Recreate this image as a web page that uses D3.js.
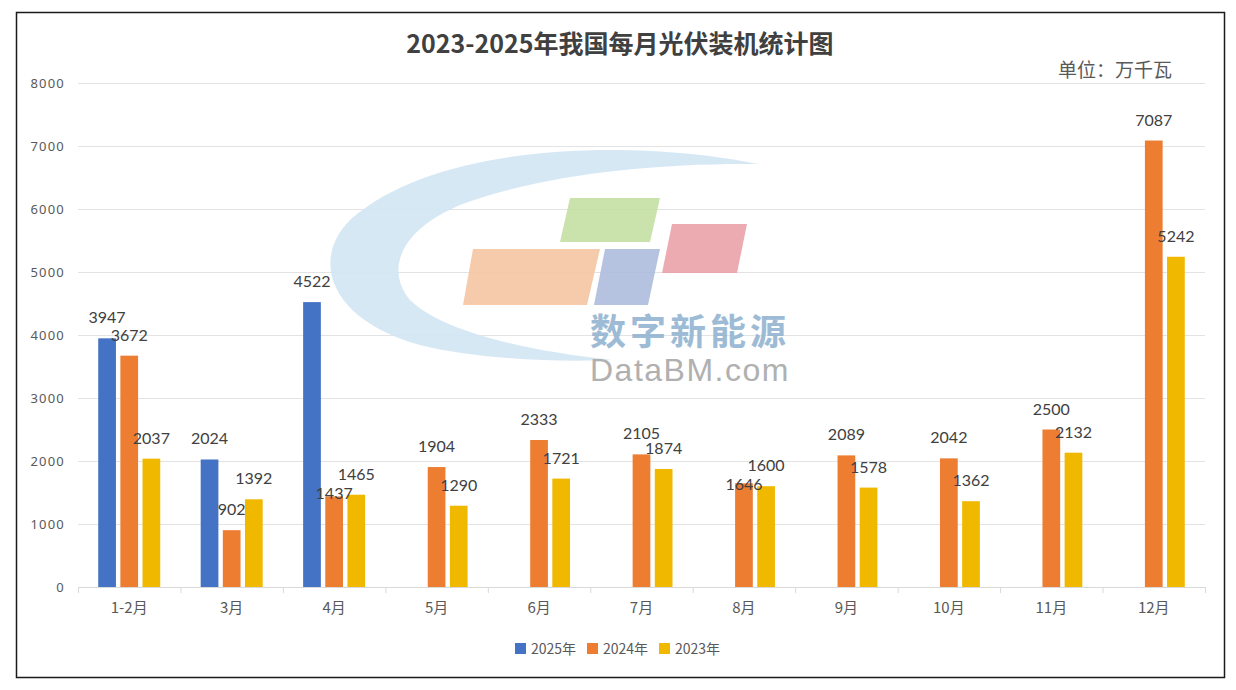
<!DOCTYPE html>
<html>
<head>
<meta charset="utf-8">
<script src="https://cdn.jsdelivr.net/npm/d3@7"></script>
<style>
  body { margin: 0; background: #fff; }
</style>
</head>
<body>
<div id="chart"></div>
<script>
const months = ['1-2月', '3月', '4月', '5月', '6月', '7月', '8月', '9月', '10月', '11月', '12月'];
const seriesNames = ['2025年', '2024年', '2023年'];
const colors = ['#4472C4', '#ED7D31', '#F1B800'];
const values2025 = [3947, 2024, 4522, null, null, null, null, null, null, null, null];
const values2024 = [3672, 902, 1437, 1904, 2333, 2105, 1646, 2089, 2042, 2500, 7087];
const values2023 = [2037, 1392, 1465, 1290, 1721, 1874, 1600, 1578, 1362, 2132, 5242];
const yTicks = [0, 1000, 2000, 3000, 4000, 5000, 6000, 7000, 8000];

// table for the grouped bars
const allValues = [values2025, values2024, values2023];
const rows = months.map((m, i) => ({
  month: m,
  bars: seriesNames.map((s, j) => ({series: s, value: allValues[j][i]}))
}));

const W = 1236, H = 690;
const plot = {left: 78, right: 1205, top: 83, bottom: 587};

const svg = d3.select('#chart')
  .append('svg')
    .attr('width', W)
    .attr('height', H);

// outer frame
svg.append('rect')
  .attr('x', 16.5).attr('y', 12.5)
  .attr('width', 1208).attr('height', 665)
  .attr('fill', '#fff')
  .attr('stroke', '#1a1a1a')
  .attr('stroke-width', 1.5);

const x0 = d3.scaleBand()
  .domain(months)
  .range([plot.left, plot.right])
  .padding(0);

const x1 = d3.scaleBand()
  .domain(seriesNames)
  .range([-31, 31])
  .paddingInner(0.2);

const y = d3.scaleLinear()
  .domain([0, 8000])
  .range([plot.bottom, plot.top]);

// gridlines + y labels
svg.append('g')
  .selectAll('line')
  .data(yTicks.slice(1))
  .join('line')
    .attr('x1', plot.left).attr('x2', plot.right)
    .attr('y1', d => y(d) + 0.5).attr('y2', d => y(d) + 0.5)
    .attr('stroke', '#e3e3e3');

svg.append('g')
  .selectAll('text')
  .data(yTicks)
  .join('text')
    .attr('x', 65)
    .attr('y', d => y(d) + 5)
    .attr('text-anchor', 'end')
    .attr('font-family', 'Noto Sans, sans-serif')
    .attr('font-size', 13)
    .attr('letter-spacing', 1.2)
    .attr('fill', '#595959')
    .text(d => d);

// watermark
const wm = svg.append('g').attr('opacity', 0.9);
wm.append('path')
  .attr('d', 'M758,164 C640,140 440,140 350,220 C310,260 330,320 420,345 C480,360 560,362 612,360 ' +
             'C520,350 440,330 410,300 C385,270 400,230 460,205 C540,175 650,163 758,164 Z')
  .attr('fill', '#d3e6f5');
const quads = [
  {pts: [[463,305],[473,249],[600,249],[587,305]], c: '#f6c6a2'},
  {pts: [[560,242],[570,198],[660,198],[650,242]], c: '#c5dfa3'},
  {pts: [[594,305],[605,249],[660,249],[648,305]], c: '#aebddd'},
  {pts: [[662,273],[672,224],[747,224],[737,273]], c: '#eba2a9'}
];
wm.selectAll('polygon')
  .data(quads)
  .join('polygon')
    .attr('points', d => d.pts.join(' '))
    .attr('fill', d => d.c);
wm.append('text')
  .attr('x', 590).attr('y', 345)
  .attr('font-family', 'Noto Sans CJK SC, sans-serif')
  .attr('font-weight', 'bold')
  .attr('font-size', 36)
  .attr('letter-spacing', 4)
  .attr('fill', '#94b4d2')
  .text('数字新能源');
wm.append('text')
  .attr('x', 590).attr('y', 381)
  .attr('font-family', 'Liberation Sans, sans-serif')
  .attr('font-size', 32)
  .attr('letter-spacing', 1.5)
  .attr('fill', '#a8a8a8')
  .text('DataBM.com');

// bars
const groups = svg.append('g')
  .selectAll('g')
  .data(rows)
  .join('g')
    .attr('transform', d => `translate(${x0(d.month) + x0.bandwidth() / 2},0)`);

groups.selectAll('rect')
  .data(d => d.bars.filter(b => b.value != null))
  .join('rect')
    .attr('x', d => x1(d.series))
    .attr('y', d => y(d.value))
    .attr('width', x1.bandwidth())
    .attr('height', d => y(0) - y(d.value))
    .attr('fill', d => colors[seriesNames.indexOf(d.series)]);

// label baseline above each bar; if a label is not clearly above its right
// neighbour, push it down below that neighbour
function labelPositions(bars) {
  const list = bars.filter(b => b.value != null)
    .map(b => ({...b, ly: y(b.value) - 15}));
  for (let i = list.length - 2; i >= 0; i--) {
    const next = list[i + 1];
    if (list[i].ly > next.ly - 14) list[i].ly = Math.max(list[i].ly, next.ly + 19);
  }
  return list;
}

groups.selectAll('text')
  .data(d => labelPositions(d.bars))
  .join('text')
    .attr('x', d => x1(d.series) + x1.bandwidth() / 2)
    .attr('y', d => d.ly)
    .attr('text-anchor', 'middle')
    .attr('font-family', 'Lato, sans-serif')
    .attr('font-size', 16)
    .attr('fill', '#404040')
    .text(d => d.value);

// x axis
const xAxis = svg.append('g')
  .attr('transform', `translate(0,${plot.bottom})`);
xAxis.append('line')
  .attr('x1', plot.left).attr('x2', plot.right)
  .attr('y1', 0.5).attr('y2', 0.5)
  .attr('stroke', '#d9d9d9');
xAxis.selectAll('line.tick')
  .data(months.concat(['end']))
  .join('line')
    .attr('class', 'tick')
    .attr('x1', (d, i) => plot.left + i * x0.step() + 0.5)
    .attr('x2', (d, i) => plot.left + i * x0.step() + 0.5)
    .attr('y1', 0).attr('y2', 6)
    .attr('stroke', '#d9d9d9');
xAxis.selectAll('text')
  .data(months)
  .join('text')
    .attr('x', d => x0(d) + x0.bandwidth() / 2)
    .attr('y', 26)
    .attr('text-anchor', 'middle')
    .attr('font-family', 'Noto Sans CJK SC, sans-serif')
    .attr('font-size', 15)
    .attr('fill', '#595959')
    .text(d => d);

// title and unit
svg.append('text')
  .attr('x', 620).attr('y', 53)
  .attr('text-anchor', 'middle')
  .attr('font-family', 'Noto Sans CJK SC, sans-serif')
  .attr('font-weight', 'bold')
  .attr('font-size', 25)
  .attr('fill', '#404040')
  .text('2023-2025年我国每月光伏装机统计图');

svg.append('text')
  .attr('x', 1172).attr('y', 77)
  .attr('text-anchor', 'end')
  .attr('font-family', 'Noto Sans CJK SC, sans-serif')
  .attr('font-size', 19)
  .attr('fill', '#595959')
  .text('单位：万千瓦');

// legend
const legend = svg.append('g')
  .selectAll('g')
  .data(seriesNames)
  .join('g')
    .attr('transform', (d, i) => `translate(${515 + i * 72},643)`);
legend.append('rect')
  .attr('width', 11).attr('height', 11)
  .attr('fill', (d, i) => colors[i]);
legend.append('text')
  .attr('x', 16).attr('y', 11)
  .attr('font-family', 'Noto Sans CJK SC, sans-serif')
  .attr('font-size', 14)
  .attr('fill', '#595959')
  .text(d => d);
</script>
</body>
</html>
